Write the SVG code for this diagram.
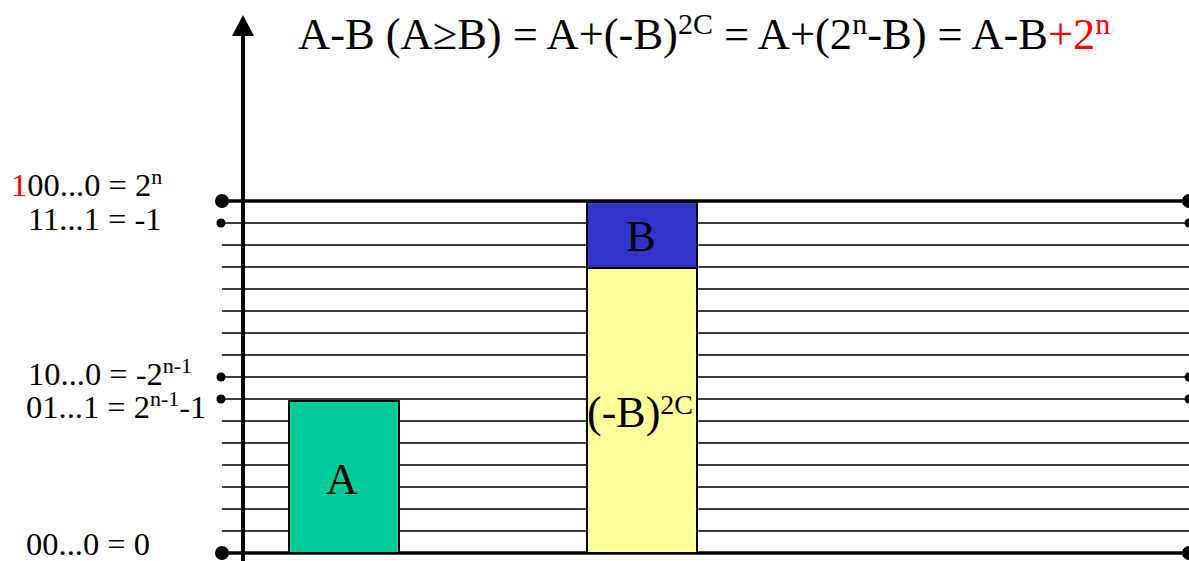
<svg xmlns="http://www.w3.org/2000/svg" width="1189" height="561" viewBox="0 0 1189 561">
<defs>
<style>
.t{font-family:"Liberation Serif","Times New Roman",serif;fill:#000}
.thin{stroke:#000;stroke-width:1.5}
.thick{stroke:#000;stroke-width:3.5}
.bar{stroke:#000;stroke-width:2}
.red{fill:#FF0000}
.big{font-size:44px}
.ttl{font-size:44.5px}
.lbl{font-size:32.5px}
</style>
</defs>
<rect width="1189" height="561" fill="#fff"/>
<g id="connectors">
<line class="thin" x1="222" y1="223" x2="1189" y2="223"/>
<line class="thin" x1="222" y1="245" x2="1189" y2="245"/>
<line class="thin" x1="222" y1="267" x2="1189" y2="267"/>
<line class="thin" x1="222" y1="289" x2="1189" y2="289"/>
<line class="thin" x1="222" y1="311" x2="1189" y2="311"/>
<line class="thin" x1="222" y1="333" x2="1189" y2="333"/>
<line class="thin" x1="222" y1="355" x2="1189" y2="355"/>
<line class="thin" x1="222" y1="377" x2="1189" y2="377"/>
<line class="thin" x1="222" y1="399" x2="1189" y2="399"/>
<line class="thin" x1="222" y1="421" x2="1189" y2="421"/>
<line class="thin" x1="222" y1="443" x2="1189" y2="443"/>
<line class="thin" x1="222" y1="465" x2="1189" y2="465"/>
<line class="thin" x1="222" y1="487" x2="1189" y2="487"/>
<line class="thin" x1="222" y1="509" x2="1189" y2="509"/>
<line class="thin" x1="222" y1="531" x2="1189" y2="531"/>
<line class="thick" x1="222" y1="201" x2="1189" y2="201"/>
<line class="thick" x1="222" y1="553" x2="1189" y2="553"/>
<circle cx="222" cy="201" r="7" fill="#000"/>
<circle cx="222" cy="553" r="7" fill="#000"/>
<circle cx="221" cy="223" r="4.5" fill="#000"/>
<circle cx="221" cy="377" r="4.5" fill="#000"/>
<circle cx="221" cy="399" r="4.5" fill="#000"/>
<circle cx="1189" cy="201" r="7" fill="#000"/>
<circle cx="1189" cy="553" r="7" fill="#000"/>
<circle cx="1189" cy="223" r="4.5" fill="#000"/>
<circle cx="1189" cy="377" r="4.5" fill="#000"/>
<circle cx="1189" cy="399" r="4.5" fill="#000"/>
<line x1="243" y1="565" x2="243" y2="34" stroke="#000" stroke-width="4"/>
<polygon points="243,15 232,36 254,36" fill="#000"/>
</g>
<g id="barA">
<rect class="bar" x="289" y="401" width="110" height="152" fill="#00CC99"/>
<text class="t big" x="342" y="494" text-anchor="middle">A</text>
</g>
<g id="barNegB">
<rect class="bar" x="587" y="268" width="110" height="285" fill="#FFFF99"/>
<text class="t big" x="587" y="427">(-B)<tspan font-size="28" dy="-13">2C</tspan></text>
</g>
<g id="barB">
<rect class="bar" x="587" y="202" width="110" height="66" fill="#3333CC"/>
<text class="t big" x="641" y="251" text-anchor="middle">B</text>
</g>
<g id="title">
<text class="t ttl" x="298" y="49">A-B (A≥B) = A+(-B)<tspan font-size="30" dy="-15">2C</tspan><tspan dy="15"> = A+(2</tspan><tspan font-size="30" dy="-15">n</tspan><tspan dy="15">-B) = A-B</tspan><tspan class="red">+2</tspan><tspan class="red" font-size="30" dy="-15">n</tspan></text>
</g>
<g id="labels">
<text class="t lbl" x="11" y="196"><tspan class="red">1</tspan>00...0 = 2<tspan font-size="22" dy="-12">n</tspan></text>
<text class="t lbl" x="28" y="230">11...1 = -1</text>
<text class="t lbl" x="28" y="385">10...0 = -2<tspan font-size="22" dy="-12">n-1</tspan></text>
<text class="t lbl" x="26" y="418">01...1 = 2<tspan font-size="22" dy="-12">n-1</tspan><tspan dy="12">-1</tspan></text>
<text class="t lbl" x="26" y="555">00...0 = 0</text>
</g>
</svg>
